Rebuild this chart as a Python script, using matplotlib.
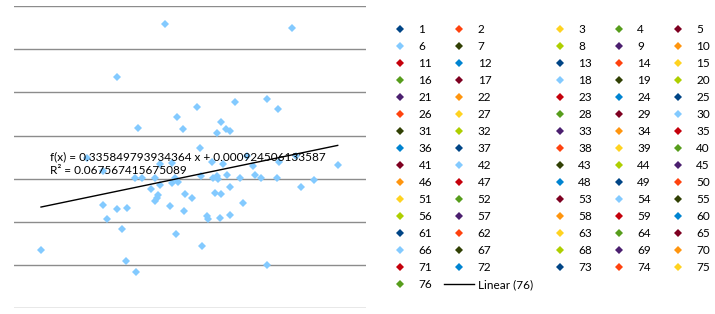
import numpy as np
import matplotlib
matplotlib.use("Agg")
import matplotlib.pyplot as plt
from matplotlib.lines import Line2D

plt.rcParams['font.family'] = ['Lato', 'DejaVu Sans']

# scatter values (no tick labels in the original, units are arbitrary)
x_vals = [-0.04177, -0.02868, -0.02392, -0.02392, -0.02278, -0.02008, -0.02008, -0.01857,
          -0.01751, -0.01722, -0.01455, -0.01470, -0.01407, -0.01289, -0.01017, -0.00911,
          -0.00911, -0.00868, -0.00817, -0.00782, -0.00768, -0.00633, -0.00481, -0.00415,
          -0.00424, -0.00352, -0.00309, -0.00272, -0.00266, -0.00095, -0.00080, -0.00052,
          0.00163, 0.00301, 0.00384, 0.00401, 0.00435, 0.00587, 0.00613, 0.00731,
          0.00756, 0.00808, 0.00874, 0.00874, 0.00902, 0.00951, 0.00971, 0.00980,
          0.01023, 0.01123, 0.01152, 0.01238, 0.01229, 0.01238, 0.01367, 0.01524,
          0.01602, 0.01716, 0.01905, 0.01968, 0.02134, 0.02298, 0.02298, 0.02576,
          0.02627, 0.02636, 0.03005, 0.03129, 0.03266, 0.03630, 0.04323]
y_vals = [-0.03287, 0.00958, 0.00338, -0.01227, -0.01884, 0.04709, -0.01403, -0.02315,
          -0.03829, -0.01375, -0.04320, 0.00023, 0.02347, 0.00023, -0.00463, 0.00023,
          -0.01019, -0.00903, -0.00741, 0.00671, -0.00278, 0.07162, -0.01282, 0.00741,
          -0.00185, 0.00023, -0.02560, 0.02838, -0.00162, 0.02283, -0.01491, -0.00718,
          -0.00870, 0.03343, 0.01421, 0.00148, -0.03093, -0.01704, -0.01852, 0.00764,
          0.00023, -0.00639, 0.02116, 0.00139, 0.00000, -0.01829, 0.02616, -0.00708,
          0.00681, 0.02292, 0.00153, 0.02190, -0.00370, -0.01699, 0.03533, 0.00023,
          -0.01125, 0.01032, 0.00588, 0.00162, 0.00023, 0.03695, -0.03973, 0.00023,
          0.03250, 0.00764, 0.06991, 0.01051, -0.00370, -0.00056, 0.00648]

slope = 0.335849793934364
intercept = 0.000924506133587
r_squared = "0.067567415675089"

series_names = [str(i) for i in range(1, 77)]
palette = ["#004586", "#ff420e", "#ffd320", "#579d1c", "#7e0021", "#83caff",
           "#314004", "#aecf00", "#4b1f6f", "#ff950e", "#c5000b", "#0084d1"]

fig = plt.figure(figsize=(7.15, 3.14), dpi=100)
ax = fig.add_axes([14/715, 1-308.3/314, (366-14)/715, (308.3-6)/314])

ax.plot(x_vals, y_vals, linestyle='none', marker='D', ms=4.4, color='#83caff',
        markeredgewidth=0, zorder=3)

# linear trend line over the data range
xt = np.array([min(x_vals), max(x_vals)])
ax.plot(xt, slope*xt + intercept, color='black', lw=1, zorder=4)

ax.set_xlim(-0.04951, 0.05134)
ax.set_ylim(-0.06, 0.08)
ax.set_yticks(np.arange(-0.06, 0.081, 0.02))
ax.grid(axis='y', color='#8c8c8c', lw=1)
ax.set_axisbelow(True)
ax.tick_params(left=False, bottom=False, labelleft=False, labelbottom=False)
for s in ax.spines.values():
    s.set_visible(False)

ax.text(50/715, 1-157/314, "f(x) = %s x + %s" % (repr(slope), "0.000924506133587"),
        transform=fig.transFigure, fontsize=8.5, va='center', ha='left', zorder=5)
ax.text(50/715, 1-170/314, "R² = " + r_squared,
        transform=fig.transFigure, fontsize=8.5, va='center', ha='left', zorder=5)

# legend: 5 columns filled row by row like the original
handles = {}
for i, name in enumerate(series_names):
    handles[name] = Line2D([], [], linestyle='none', marker='D', ms=4.4,
                           color=palette[i % 12], markeredgewidth=0)
trend_handle = Line2D([], [], color='black', lw=1)

cols = [[] for _ in range(5)]
for i, name in enumerate(series_names):
    cols[i % 5].append((handles[name], name))
cols[1].append((trend_handle, "Linear (76)"))
ordered = [item for c in cols for item in c]

fig.legend([h for h, l in ordered], [l for h, l in ordered], ncol=5,
           loc='upper left', bbox_to_anchor=(385/715, 1-24/314), frameon=False,
           fontsize=8.5, handlelength=2.54, handletextpad=0.3, columnspacing=1.0,
           labelspacing=0.51, borderpad=0, borderaxespad=0)

fig.savefig("out.png", dpi=100)
